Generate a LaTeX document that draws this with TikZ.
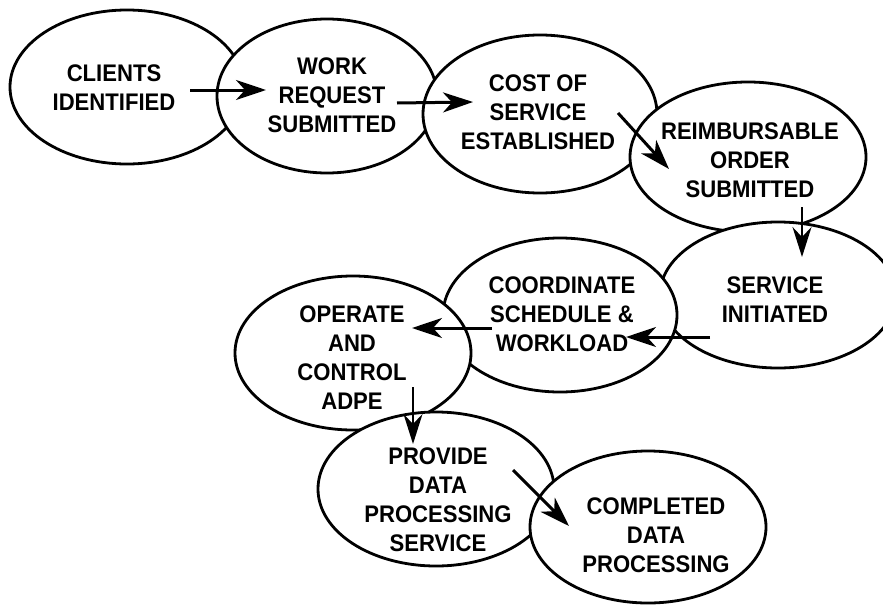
\documentclass[tikz,border=0pt]{standalone}
\usepackage{fontspec}
\setmainfont[FakeStretch=0.92]{Liberation Sans}
\usetikzlibrary{arrows.meta,shapes.geometric}
\begin{document}
\begin{tikzpicture}[x=1pt,y=-1pt,
  oval/.style={ellipse,draw=black,fill=white,line width=2.8pt,inner sep=0pt},
  txt/.style={align=center,font=\bfseries\fontsize{24}{29}\selectfont,inner sep=0pt},
  arr/.style={line width=3pt,-{Stealth[length=30pt,width=20pt,inset=9pt]}},
  thinarr/.style={line width=2pt,-{Stealth[length=30pt,width=19pt,inset=10pt]}}]
\useasboundingbox (0,0) rectangle (883,605);
% ellipses, later ones on top
\node[oval,minimum width=234pt,minimum height=154pt] (c1) at (127,87) {};
\node[oval,minimum width=220pt,minimum height=154pt] (c2) at (327,96) {};
\node[oval,minimum width=234pt,minimum height=158pt] (c3) at (540,114) {};
\node[oval,minimum width=236pt,minimum height=150pt] (c4) at (748,157) {};
\node[oval,minimum width=236pt,minimum height=146pt] (c5) at (778,295) {};
\node[oval,minimum width=234pt,minimum height=154pt] (c6) at (560,315) {};
\node[oval,minimum width=236pt,minimum height=154pt] (c7) at (353,353) {};
\node[oval,minimum width=236pt,minimum height=154pt] (c8) at (436,489) {};
\node[oval,minimum width=236pt,minimum height=152pt] (c9) at (648,527) {};
% texts
\node[txt] (t1) at (114,88) {CLIENTS\\IDENTIFIED};
\node[txt] (t2) at (332,95) {WORK\\REQUEST\\SUBMITTED};
\node[txt] (t3) at (538,112) {COST OF\\SERVICE\\ESTABLISHED};
\node[txt] (t4) at (750,160) {REIMBURSABLE\\ORDER\\SUBMITTED};
\node[txt] (t5) at (775,300) {SERVICE\\INITIATED};
\node[txt] (t6) at (562,314) {COORDINATE\\SCHEDULE \&\\WORKLOAD};
\node[txt] (t7) at (352,358) {OPERATE\\AND\\CONTROL\\ADPE};
\node[txt] (t8) at (438,500) {PROVIDE\\DATA\\PROCESSING\\SERVICE};
\node[txt] (t9) at (656,535) {COMPLETED\\DATA\\PROCESSING};
% arrow end points
\coordinate (a1s) at (190,90);  \coordinate (a1e) at (266,90);
\coordinate (a2s) at (397,103); \coordinate (a2e) at (473,102);
\coordinate (a3s) at (618,113); \coordinate (a3e) at (669,169);
\coordinate (a4s) at (802,207); \coordinate (a4e) at (802,257);
\coordinate (a5s) at (710,337); \coordinate (a5e) at (626,337);
\coordinate (a6s) at (492,328); \coordinate (a6e) at (412,328);
\coordinate (a7s) at (413,387); \coordinate (a7e) at (413,444);
\coordinate (a8s) at (513,470); \coordinate (a8e) at (569,526);
\draw[arr] (a1s) -- (a1e);
\draw[arr] (a2s) -- (a2e);
\draw[arr] (a3s) -- (a3e);
\draw[thinarr] (a4s) -- (a4e);
\draw[arr] (a5s) -- (a5e);
\draw[arr] (a6s) -- (a6e);
\draw[thinarr] (a7s) -- (a7e);
\draw[arr] (a8s) -- (a8e);
\end{tikzpicture}
\end{document}
